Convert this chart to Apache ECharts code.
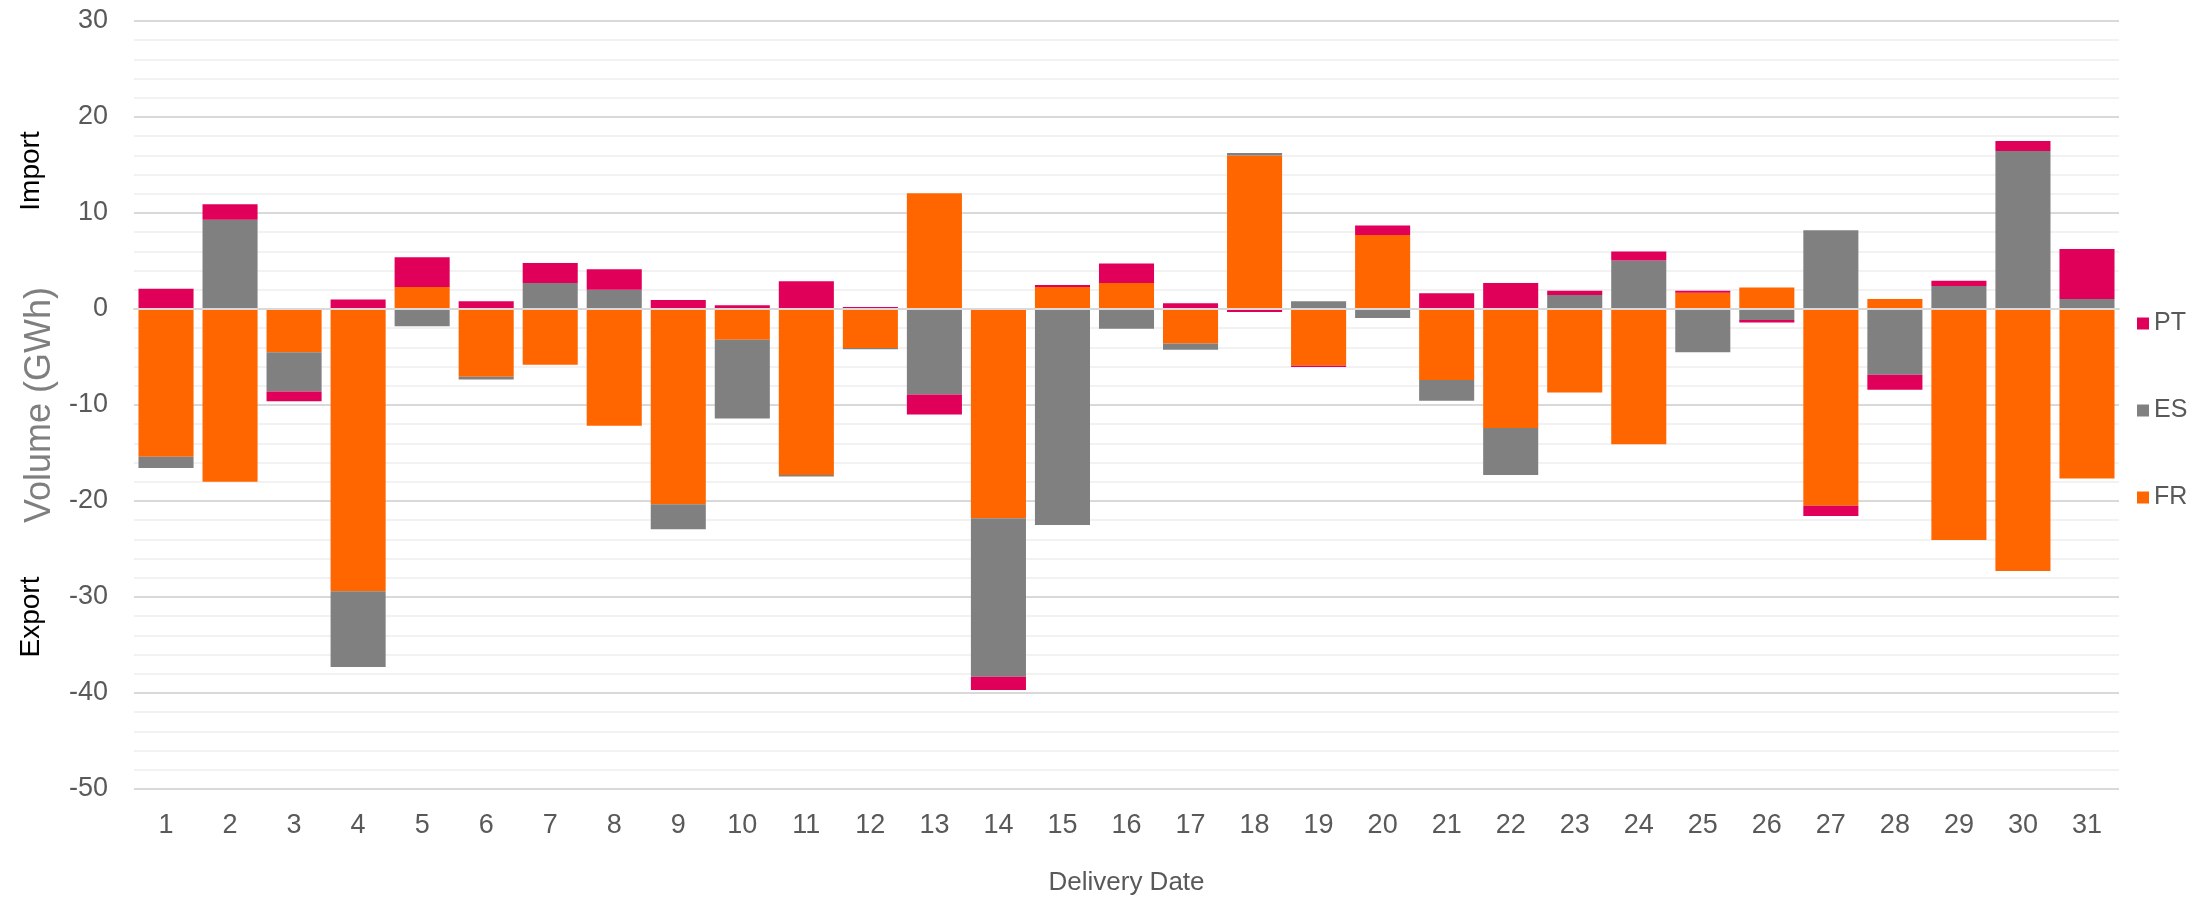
<!DOCTYPE html>
<html>
<head>
<meta charset="utf-8">
<script src="https://cdn.jsdelivr.net/npm/echarts@6/dist/echarts.min.js"></script>
<style>
html,body{margin:0;padding:0;background:#fff;}
#chart{width:2206px;height:897px;}
</style>
</head>
<body>
<div id="chart"></div>
<script>
const categories = ['1','2','3','4','5','6','7','8','9','10','11','12','13','14','15','16','17','18','19','20','21','22','23','24','25','26','27','28','29','30','31'];
const FR = [-15.4, -18.0, -4.5, -29.4, 2.3, -7.05, -5.8, -12.15, -20.35, -3.2, -17.3, -4.05, 12.05, -21.8, 2.3, 2.7, -3.6, 16.0, -5.9, 7.7, -7.4, -12.4, -8.7, -14.1, 1.7, 2.25, -20.5, 1.05, -24.05, -27.3, -17.65];
const ES = [-1.15, 9.3, -4.1, -7.9, -1.8, -0.3, 2.7, 2.0, -2.6, -8.2, -0.15, -0.15, -8.9, -16.5, -22.5, -2.05, -0.65, 0.25, 0.8, -0.95, -2.15, -4.9, 1.45, 5.05, -4.5, -1.15, 8.2, -6.85, 2.4, 16.45, 1.05];
const PT = [2.1, 1.6, -1.0, 1.0, 3.1, 0.8, 2.1, 2.15, 0.95, 0.4, 2.9, 0.2, -2.1, -1.4, 0.2, 2.05, 0.6, -0.3, -0.15, 1.0, 1.65, 2.7, 0.45, 0.95, 0.2, -0.25, -1.05, -1.55, 0.55, 1.05, 5.2];
const yTicks = {min: -50, max: 30, interval: 10};

const FONT = '"Liberation Sans", Arial, sans-serif';
const chart = echarts.init(document.getElementById('chart'));
const barSeries = (name, data, color) => ({
  name, type: 'bar', stack: 'total', data,
  xAxisIndex: 0,
  barCategoryGap: '14%',
  itemStyle: {color},
  emphasis: {disabled: true}
});
chart.setOption({
  animation: false,
  textStyle: {fontFamily: FONT},
  grid: {left: 134, right: 87, top: 21, bottom: 108, containLabel: false, outerBoundsMode: 'none'},
  legend: {
    orient: 'vertical', left: 2132, top: 306,
    itemWidth: 12, itemHeight: 12, itemGap: 62,
    icon: 'rect',
    data: ['PT', 'ES', 'FR'],
    textStyle: {fontSize: 25, color: '#595959', fontFamily: FONT}
  },
  xAxis: [{
    type: 'category', data: categories,
    axisLine: {show: false, onZero: false},
    axisTick: {show: false},
    axisLabel: {fontSize: 27, color: '#595959', margin: 23, fontFamily: FONT},
    name: 'Delivery Date', nameLocation: 'middle', nameGap: 81,
    nameTextStyle: {fontSize: 26, color: '#595959', fontFamily: FONT}
  }, {
    type: 'category', data: categories, position: 'bottom',
    axisLine: {show: true, onZero: true, lineStyle: {color: '#d9d9d9', width: 2}},
    axisTick: {show: false}, axisLabel: {show: false}, z: 10
  }],
  yAxis: {
    type: 'value', min: yTicks.min, max: yTicks.max, interval: yTicks.interval,
    axisLine: {show: false}, axisTick: {show: false},
    axisLabel: {fontSize: 27, color: '#595959', margin: 26, fontFamily: FONT},
    splitLine: {lineStyle: {color: '#d9d9d9', width: 2}},
    minorTick: {show: false, splitNumber: 5},
    minorSplitLine: {show: true, lineStyle: {color: '#f2f2f2', width: 2}},
    name: 'Volume (GWh)', nameLocation: 'middle', nameGap: 74, nameRotate: 90,
    nameTextStyle: {fontSize: 36, color: '#7f7f7f', fontFamily: FONT}
  },
  graphic: [
    {type: 'text', x: 31, y: 171, rotation: Math.PI / 2,
     style: {text: 'Import', fontSize: 28, fill: '#000', fontFamily: FONT, align: 'center', verticalAlign: 'middle'}},
    {type: 'text', x: 31, y: 617, rotation: Math.PI / 2,
     style: {text: 'Export', fontSize: 28, fill: '#000', fontFamily: FONT, align: 'center', verticalAlign: 'middle'}}
  ],
  series: [
    barSeries('FR', FR, '#FF6600'),
    barSeries('ES', ES, '#808080'),
    barSeries('PT', PT, '#E0005A')
  ]
});
</script>
</body>
</html>
